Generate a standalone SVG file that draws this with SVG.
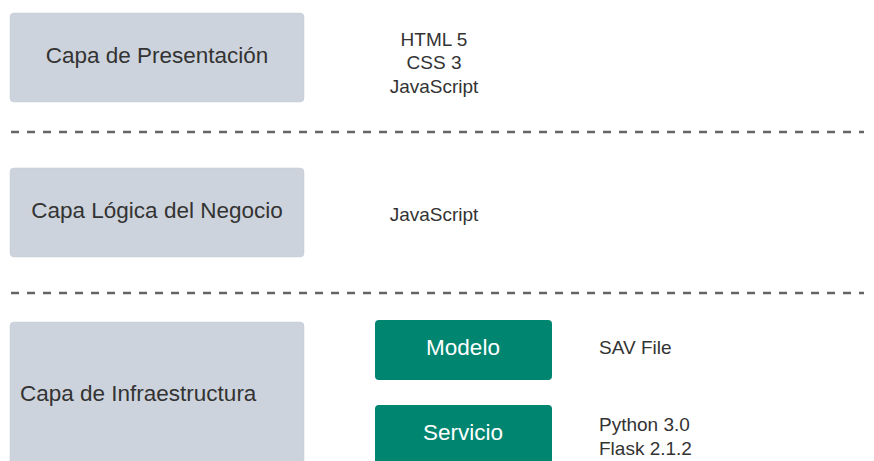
<svg xmlns="http://www.w3.org/2000/svg" width="874" height="461" viewBox="0 0 874 461">
<style>
.layer{fill:#cdd3dc;stroke:#c4cad3;stroke-width:0.5}
.comp{fill:#008571}
.t{font-family:"Liberation Sans",Arial,sans-serif;fill:#333333}
.lt{font-size:22.5px}
.st{font-size:19px}
.w{font-family:"Liberation Sans",Arial,sans-serif;fill:#ffffff;font-size:22.5px}
.sep{stroke:#666666;stroke-width:2.5;stroke-dasharray:8 8;fill:none}
</style>
<rect width="874" height="461" fill="#ffffff"/>
<g id="connectors">
<line class="sep" x1="11" y1="132" x2="864" y2="132"/>
<line class="sep" x1="11" y1="293" x2="864" y2="293"/>
</g>
<g id="presentacion">
<rect class="layer" x="10" y="13" width="294" height="89" rx="4"/>
<text class="t lt" x="157" y="63" text-anchor="middle">Capa de Presentación</text>
</g>
<g id="presentacion-tech">
<text class="t st" x="434" y="46" text-anchor="middle">HTML 5</text>
<text class="t st" x="434" y="69" text-anchor="middle">CSS 3</text>
<text class="t st" x="434" y="93" text-anchor="middle">JavaScript</text>
</g>
<g id="logica">
<rect class="layer" x="10" y="168" width="294" height="89" rx="4"/>
<text class="t lt" x="157" y="218" text-anchor="middle">Capa Lógica del Negocio</text>
</g>
<g id="logica-tech">
<text class="t st" x="434" y="221" text-anchor="middle">JavaScript</text>
</g>
<g id="infraestructura">
<rect class="layer" x="10" y="322" width="294" height="150" rx="4"/>
<text class="t lt" x="20" y="401">Capa de Infraestructura</text>
</g>
<g id="modelo">
<rect class="comp" x="375" y="320" width="177" height="60" rx="4"/>
<text class="w" x="463" y="355" text-anchor="middle">Modelo</text>
</g>
<g id="modelo-tech">
<text class="t st" x="599" y="354">SAV File</text>
</g>
<g id="servicio">
<rect class="comp" x="375" y="405" width="177" height="70" rx="4"/>
<text class="w" x="463" y="440" text-anchor="middle">Servicio</text>
</g>
<g id="servicio-tech">
<text class="t st" x="599" y="431">Python 3.0</text>
<text class="t st" x="599" y="455">Flask 2.1.2</text>
</g>
</svg>
